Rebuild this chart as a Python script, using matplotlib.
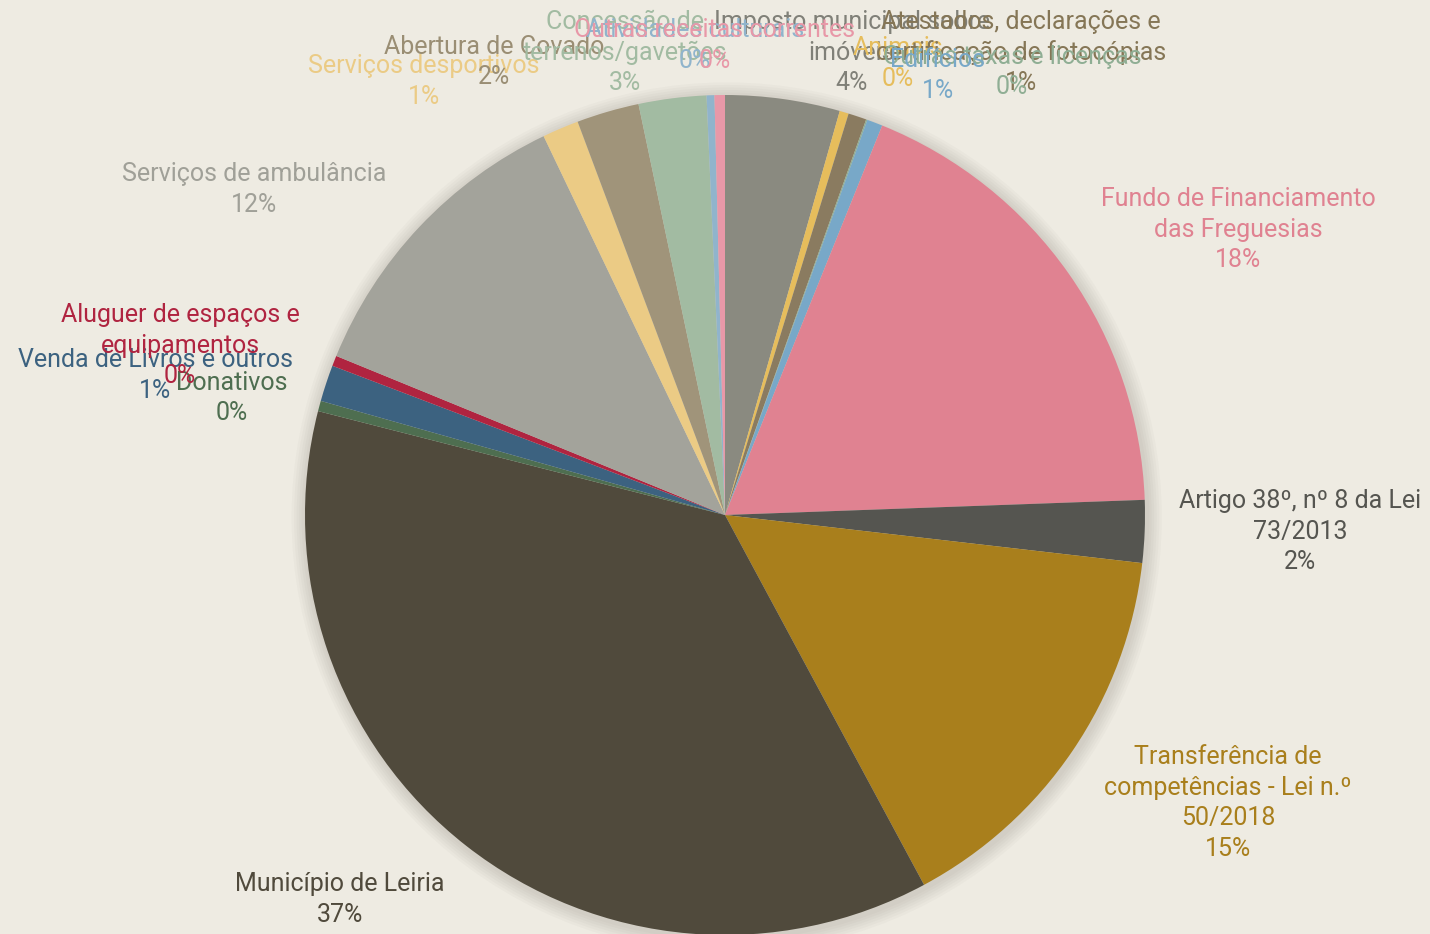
import matplotlib
matplotlib.use("Agg")
import matplotlib.pyplot as plt
from matplotlib.patches import Circle

# ---------------- data ----------------
categories = [
    "Imposto municipal sobre\nimóveis",
    "Animais",
    "Atestados, declarações e\ncertificação de fotocópias",
    "Outras taxas e licenças",
    "Edifícios",
    "Fundo de Financiamento\ndas Freguesias",
    "Artigo 38º, nº 8 da Lei\n73/2013",
    "Transferência de\ncompetências - Lei n.º\n50/2018",
    "Município de Leiria",
    "Donativos",
    "Venda de Livros e outros",
    "Aluguer de espaços e\nequipamentos",
    "Serviços de ambulância",
    "Serviços desportivos",
    "Abertura de Covado",
    "Concessão de\nterrenos/gavetões",
    "Atividades culturais",
    "Outras receitas correntes",
]
values = [4.4, 0.35, 0.7, 0.05, 0.6, 18.3, 2.4, 15.3, 36.8,
          0.4, 1.4, 0.4, 11.7, 1.4, 2.4, 2.6, 0.3, 0.4]
pct_labels = ["4%", "0%", "1%", "0%", "1%", "18%", "2%", "15%", "37%",
              "0%", "1%", "0%", "12%", "1%", "2%", "3%", "0%", "0%"]

# ---------------- styles / layout ----------------
colors = ["#8a8a80", "#e6bd5c", "#8a7b60", "#8fae94", "#78a8c8", "#e08291",
          "#555550", "#a97f1c", "#504a3c", "#4e6e50", "#3c6280", "#b02440",
          "#a3a39b", "#ebcb85", "#a0947a", "#a2bba2", "#90b4cc", "#e898a8"]
text_colors = ["#808078", "#e6bd5c", "#857656", "#8fae94", "#78a8c8", "#e08291",
               "#555550", "#a97f1c", "#504a3c", "#4e6e50", "#3c6280", "#b02440",
               "#a0a098", "#ebcb85", "#9a8e74", "#a2bba2", "#90b4cc", "#e898a8"]
# label block centres in pixel coordinates (x, y of first line centre)
label_pos_px = [(852, 22), (898, 48), (1021, 22), (1012, 57), (938, 60),
                (1238, 199), (1300, 501), (1228, 757), (340, 884),
                (232, 383), (155, 360), (180, 315), (254, 174), (424, 66),
                (494, 47), (625, 22), (695, 30), (715, 30)]

W, H = 1430, 934
CX, CY, R = 725, 515, 420
BG = "#eeebe2"
LINE = 30.5

plt.rcParams['font.family'] = ['Roboto', 'DejaVu Sans']

fig = plt.figure(figsize=(W / 100, H / 100), dpi=100, facecolor=BG)
ax = fig.add_axes([0, 0, 1, 1])
ax.set_facecolor(BG)

# soft shadow hugging the pie
for k in range(6):
    ax.add_patch(Circle((0.004, -0.006), 1.0 + 0.006 * (6 - k), color="#6a655a",
                        alpha=0.035, lw=0, zorder=0))

ax.pie(values, colors=colors, startangle=90, counterclock=False, radius=1.0,
       center=(0, 0), frame=True,
       wedgeprops=dict(linewidth=0))
ax.set_xlim(-CX / R, (W - CX) / R)
ax.set_ylim(-(H - CY) / R, CY / R)
ax.set_aspect('auto')
ax.axis('off')


def px2d(x, y):
    return (x - CX) / R, (CY - y) / R


for name, pct, col, (px, py) in zip(categories, pct_labels, text_colors, label_pos_px):
    lines = name.split("\n") + [pct]
    for k, ln in enumerate(lines):
        x, y = px2d(px, py + k * LINE)
        ax.text(x, y, ln, ha='center', va='center', color=col, fontsize=18,
                zorder=5)

fig.savefig("out.png", dpi=100, facecolor=BG)
